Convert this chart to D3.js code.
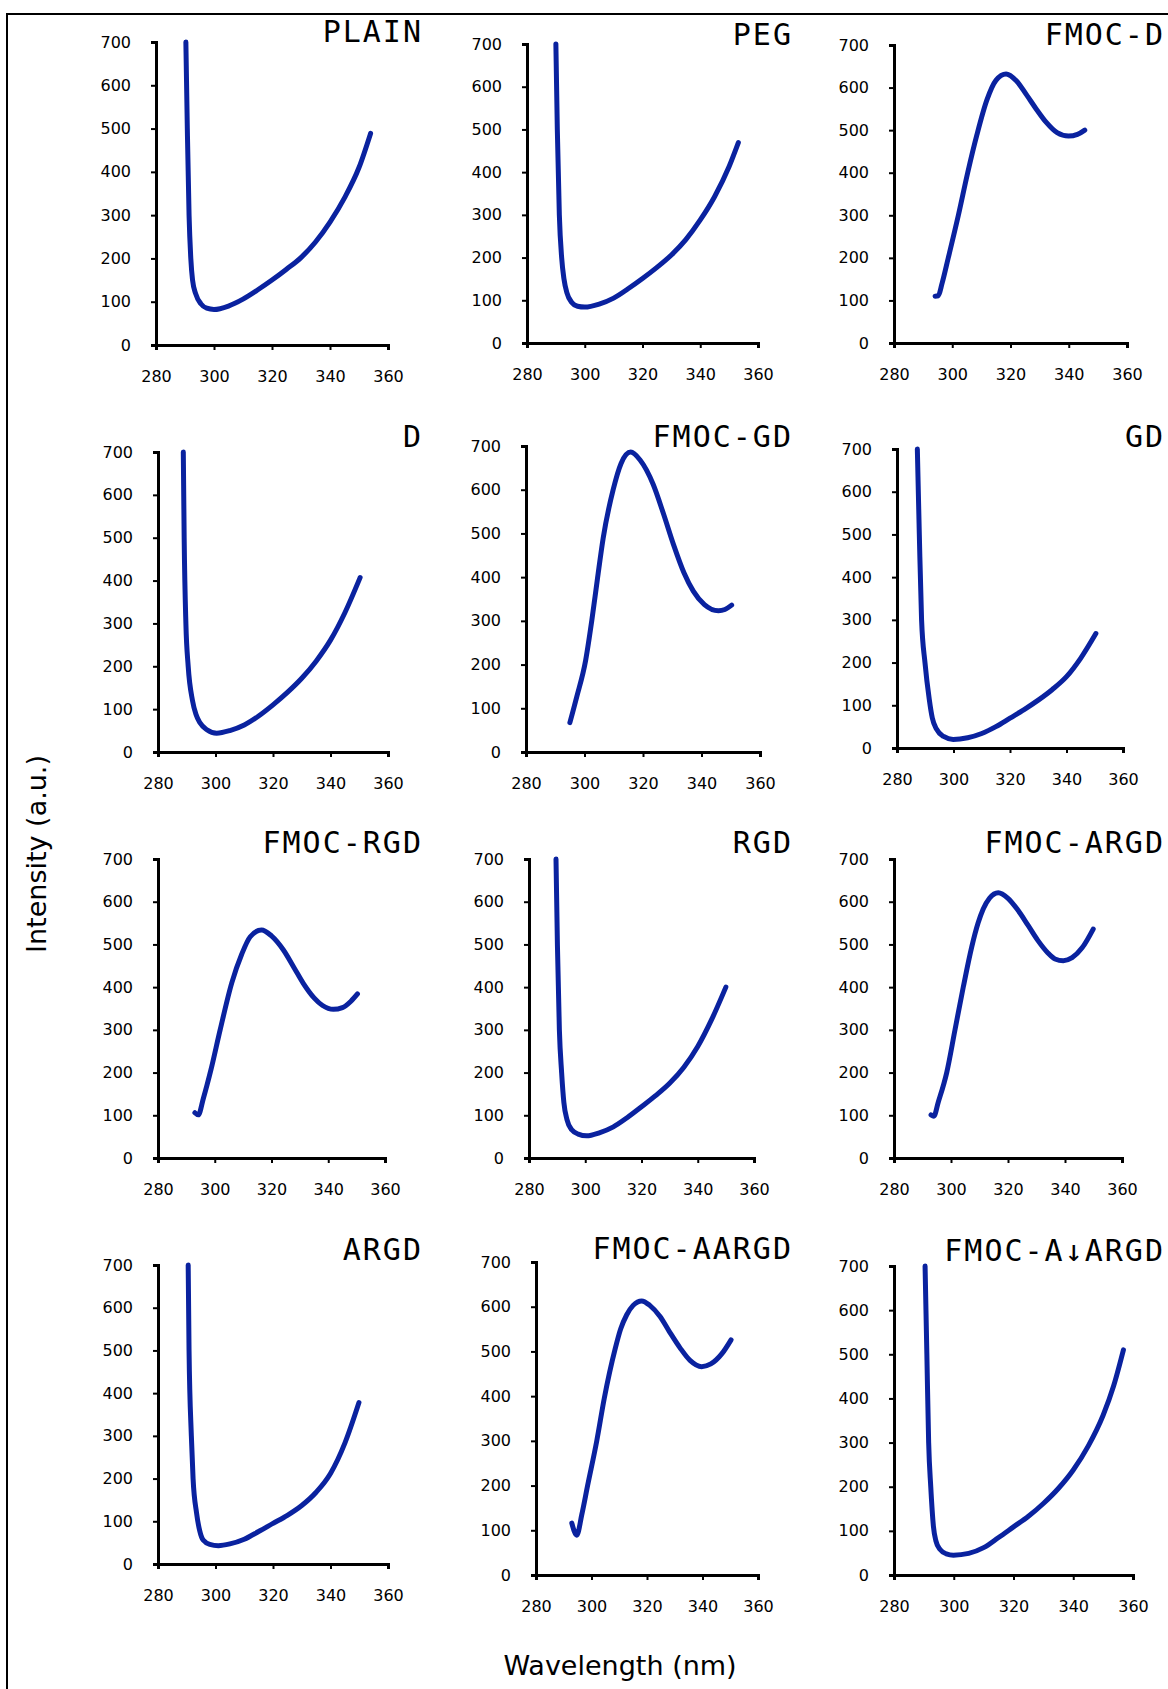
<!DOCTYPE html>
<html>
<head>
<meta charset="utf-8">
<script src="https://cdn.jsdelivr.net/npm/d3@7"></script>
<style>
    body { margin: 0; background: #fff; }
    .axis text { font-family: "DejaVu Sans", sans-serif; font-size: 16px; fill: #000; }
    .axis path, .axis line { stroke: #000; }
    .axis path { stroke-width: 3; }
    .axis line { stroke-width: 2; }
    .panelTitle { font-family: "DejaVu Sans Mono", monospace; font-size: 30px; letter-spacing: 2px; fill: #000; }
    .axisText { font-family: "DejaVu Sans", sans-serif; font-size: 27px; fill: #000; }
</style>
</head>
<body>
<div id="chart"></div>
<script>
// Emission spectra: [wavelength (nm), intensity (a.u.)]
var plain = [[290.3, 700], [290.8, 500], [291.4, 300], [292, 200], [292.6, 150], [293.7, 118], [295.5, 95], [297.5, 85], [300, 82], [305, 90], [310, 106], [315, 127], [320, 150], [325, 175], [330, 202], [335, 238], [340, 284], [345, 340], [350, 410], [354, 489]];
var peg = [[290, 700], [290.5, 500], [291.2, 300], [292, 200], [292.8, 150], [293.8, 118], [295.5, 95], [297.5, 86], [300, 84], [305, 91], [310, 105], [315, 127], [320, 151], [325, 177], [330, 206], [335, 242], [340, 288], [345, 343], [350, 413], [353.2, 469]];
var fmocD = [[294.1, 110], [295.2, 111], [296.5, 140], [298.6, 199], [302.1, 300], [305.3, 400], [308.5, 490], [311.9, 571], [315, 617], [318.5, 632], [322, 616], [325.4, 584], [329, 548], [332.3, 518], [336, 494], [339.9, 486], [343, 490], [345.5, 500]];
var dOnly = [[288.8, 700], [289.1, 500], [289.7, 300], [290.5, 200], [292, 120], [293.2, 88], [294.6, 68], [297, 52], [300.4, 44], [305, 50], [310, 63], [315, 84], [320, 110], [325, 139], [330, 172], [335, 212], [340, 261], [345, 325], [350.3, 407]];
var fmocGD = [[295, 67], [297.3, 125], [300.4, 210], [302.5, 301], [304.4, 395], [306.4, 490], [309.8, 600], [312.5, 660], [315.8, 686], [319, 668], [323.5, 612], [327, 545], [330.4, 475], [334, 410], [337.2, 368], [341, 337], [345.8, 323], [348, 326], [350.3, 336]];
var gd = [[287.2, 700], [287.9, 500], [288.7, 300], [289.9, 200], [291.4, 115], [292.5, 70], [294, 44], [296.5, 27], [299.9, 20], [305, 24], [310, 34], [315, 50], [320, 70], [325, 90], [330, 112], [335, 137], [340, 167], [345, 210], [350.4, 268]];
var fmocRGD = [[293, 106], [294.2, 101], [296, 140], [298.6, 205], [301.9, 300], [306, 410], [309.5, 477], [312.5, 518], [316.5, 534], [320, 520], [324.2, 487], [328, 445], [331.2, 409], [335, 375], [338, 357], [341.8, 348], [345, 352], [348, 367], [350.3, 384]];
var rgd = [[289.6, 700], [290.1, 500], [290.8, 300], [291.6, 200], [292.4, 130], [293.5, 90], [295.2, 66], [297.5, 56], [300.5, 52], [305, 59], [310, 73], [315, 95], [320, 120], [325, 146], [330, 175], [335, 212], [340, 261], [345, 325], [350, 400]];
var fmocARGD = [[293, 101], [294, 98], [295.5, 130], [298.5, 200], [301.4, 300], [304.3, 400], [307.3, 495], [309.5, 550], [311.3, 583], [313.5, 608], [316.6, 621], [320, 608], [323.4, 581], [327, 545], [330.4, 510], [334, 480], [336.5, 466], [339.4, 462], [342.5, 469], [346, 492], [349.9, 536]];
var argd = [[290.5, 700], [290.8, 500], [291.6, 300], [292.2, 200], [293.4, 120], [294.5, 78], [295.7, 56], [298, 46], [301, 43], [305, 47], [310, 58], [315, 76], [320, 95], [325, 114], [330, 137], [335, 168], [340, 212], [345, 283], [349.9, 378]];
var fmocAARGD = [[292.9, 116], [294.7, 89], [296.5, 135], [298.6, 200], [301.9, 300], [304.6, 395], [308.5, 505], [310.5, 550], [312.7, 582], [315, 603], [318.1, 613], [321, 603], [324.7, 578], [328, 545], [331.9, 508], [335.5, 480], [339.7, 466], [343, 472], [347, 495], [350.3, 526]];
var fmocAdARGD = [[290.4, 700], [291, 500], [291.6, 300], [292.3, 200], [293.2, 110], [294, 78], [295.4, 58], [297.5, 48], [299.9, 45], [305, 49], [310, 62], [315, 85], [320, 109], [325, 133], [330, 162], [335, 196], [340, 238], [345, 292], [350, 362], [353.5, 428], [356.8, 510]];

var titles = ["PLAIN", "PEG", "FMOC-D", "D", "FMOC-GD", "GD", "FMOC-RGD", "RGD", "FMOC-ARGD", "ARGD", "FMOC-AARGD", "FMOC-A\u2193ARGD"];
var spectra = [plain, peg, fmocD, dOnly, fmocGD, gd, fmocRGD, rgd, fmocARGD, argd, fmocAARGD, fmocAdARGD];

var xTicks = [280, 300, 320, 340, 360];
var yTicks = [0, 100, 200, 300, 400, 500, 600, 700];

// Plot area of each panel in page pixels: left, right, top, bottom
var boxes = [
    [156, 388, 42, 345], [527, 758, 44, 343], [894, 1127, 45, 343],
    [158, 388, 452, 752], [526, 760, 446, 752], [897, 1123, 449, 748],
    [158, 385, 859, 1158], [529, 754, 859, 1158], [894, 1122, 859, 1158],
    [158, 388, 1265, 1564], [536, 758, 1262, 1575], [894, 1133, 1266, 1575]
];
// Right edge of the titles per column and baseline per panel
var titleRight = [423, 793, 1165];
var titleBase = [42, 45, 45, 447, 447, 447, 853, 853, 853, 1260, 1259, 1261];

var svgWidth = 1168;
var svgHeight = 1689;

var svg = d3.select("#chart")
    .append("svg")
    .attr("width", svgWidth)
    .attr("height", svgHeight);

// Outer frame (right and bottom edges fall outside the picture)
svg.append("rect")
    .attr("x", 7)
    .attr("y", 14)
    .attr("width", 1200)
    .attr("height", 1720)
    .attr("fill", "none")
    .attr("stroke", "#000")
    .attr("stroke-width", 2);

spectra.forEach(function (data, i) {
    var b = boxes[i];

    var xScale = d3.scaleLinear().domain([280, 360]).range([b[0], b[1]]);
    var yScale = d3.scaleLinear().domain([0, 700]).range([b[3], b[2]]);

    var g = svg.append("g");

    g.append("g")
        .attr("class", "axis")
        .attr("transform", `translate(0, ${b[3]})`)
        .call(d3.axisBottom(xScale).tickValues(xTicks).tickSizeOuter(0).tickSize(5).tickPadding(21));

    g.append("g")
        .attr("class", "axis")
        .attr("transform", `translate(${b[0]}, 0)`)
        .call(d3.axisLeft(yScale).tickValues(yTicks).tickSizeOuter(0).tickSize(5).tickPadding(20));

    var line = d3.line()
        .x(d => xScale(d[0]))
        .y(d => yScale(d[1]))
        .curve(d3.curveMonotoneX);

    g.append("path")
        .datum(data)
        .attr("d", line)
        .attr("fill", "none")
        .attr("stroke", "#0a229f")
        .attr("stroke-width", 5)
        .attr("stroke-linecap", "round")
        .attr("stroke-linejoin", "round");

    g.append("text")
        .attr("class", "panelTitle")
        .attr("x", titleRight[i % 3])
        .attr("y", titleBase[i])
        .attr("text-anchor", "end")
        .text(titles[i]);
});

// Axis labels
svg.append("text")
    .attr("class", "axisText")
    .attr("transform", "translate(46, 854) rotate(-90)")
    .attr("text-anchor", "middle")
    .text("Intensity (a.u.)");

svg.append("text")
    .attr("class", "axisText")
    .attr("x", 620)
    .attr("y", 1675)
    .attr("text-anchor", "middle")
    .text("Wavelength (nm)");
</script>
</body>
</html>
